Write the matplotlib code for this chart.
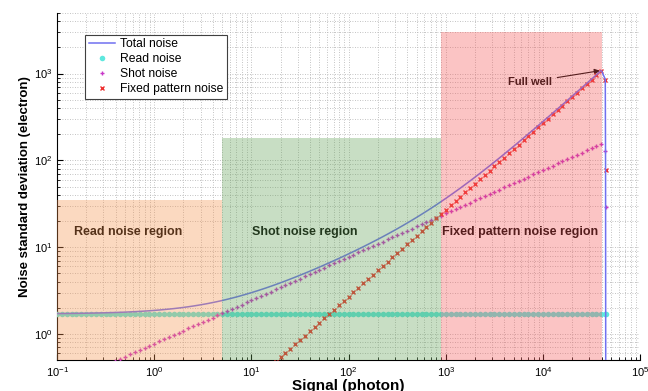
import numpy as np
import matplotlib.pyplot as plt
from matplotlib.patches import Rectangle
from matplotlib.ticker import LogLocator, NullFormatter

plt.rcParams['font.family'] = ['Liberation Sans', 'DejaVu Sans']
plt.rcParams['mathtext.fontset'] = 'custom'
plt.rcParams['mathtext.rm'] = 'Liberation Sans'
plt.rcParams['mathtext.it'] = 'Liberation Sans:italic'
plt.rcParams['mathtext.bf'] = 'Liberation Sans:bold'

# Signal level in photons (20 steps per decade, then the saturated tail)
signal = [
    0.1, 0.1122, 0.1259, 0.1413, 0.1585, 0.1778, 0.1995, 0.2239, 0.2512, 0.2818,
    0.3162, 0.3548, 0.3981, 0.4467, 0.5012, 0.5623, 0.631, 0.7079, 0.7943, 0.8913,
    1.0, 1.122, 1.259, 1.413, 1.585, 1.778, 1.995, 2.239, 2.512, 2.818,
    3.162, 3.548, 3.981, 4.467, 5.012, 5.623, 6.31, 7.079, 7.943, 8.913,
    10.0, 11.22, 12.59, 14.13, 15.85, 17.78, 19.95, 22.39, 25.12, 28.18,
    31.62, 35.48, 39.81, 44.67, 50.12, 56.23, 63.1, 70.79, 79.43, 89.13,
    100.0, 112.2, 125.9, 141.3, 158.5, 177.8, 199.5, 223.9, 251.2, 281.8,
    316.2, 354.8, 398.1, 446.7, 501.2, 562.3, 631.0, 707.9, 794.3, 891.3,
    1000, 1122, 1259, 1413, 1585, 1778, 1995, 2239, 2512, 2818,
    3162, 3548, 3981, 4467, 5012, 5623, 6310, 7079, 7943, 8913,
    10000, 11220, 12590, 14130, 15850, 17780, 19950, 22390, 25120, 28180,
    31620, 35480, 39810,
    43700, 44000, 44200,
]

# Noise components in electrons
read_noise = [1.7] * 115 + [0.1]

shot_noise = [
    0.2449, 0.2594, 0.2748, 0.2912, 0.3084, 0.3267, 0.3461, 0.3664, 0.3882, 0.4113,
    0.4355, 0.4615, 0.4886, 0.5175, 0.5484, 0.5807, 0.6153, 0.6518, 0.6902, 0.7311,
    0.7746, 0.8203, 0.8691, 0.921, 0.9752, 1.033, 1.095, 1.159, 1.228, 1.301,
    1.377, 1.459, 1.545, 1.637, 1.734, 1.837, 1.946, 2.061, 2.183, 2.312,
    2.449, 2.594, 2.748, 2.912, 3.084, 3.267, 3.461, 3.664, 3.882, 4.113,
    4.355, 4.615, 4.886, 5.175, 5.484, 5.807, 6.153, 6.518, 6.902, 7.311,
    7.746, 8.203, 8.691, 9.21, 9.752, 10.33, 10.95, 11.59, 12.28, 13.01,
    13.77, 14.59, 15.45, 16.37, 17.34, 18.37, 19.46, 20.61, 21.83, 23.12,
    24.49, 25.94, 27.48, 29.12, 30.84, 32.67, 34.61, 36.64, 38.82, 41.13,
    43.55, 46.15, 48.86, 51.75, 54.84, 58.07, 61.53, 65.18, 69.02, 73.11,
    77.46, 82.03, 86.91, 92.1, 97.52, 103.3, 109.5, 115.9, 122.8, 130.1,
    137.7, 145.9, 154.5,
    127, 29, 0.1,
]

fpn_noise = [
    0.0027, 0.00303, 0.0034, 0.00382, 0.00428, 0.0048, 0.00539, 0.00605, 0.00678, 0.00761,
    0.00854, 0.00958, 0.01075, 0.01206, 0.01353, 0.01518, 0.01704, 0.01911, 0.02145, 0.02407,
    0.027, 0.0303, 0.034, 0.0382, 0.0428, 0.048, 0.0539, 0.0605, 0.0678, 0.0761,
    0.0854, 0.0958, 0.1075, 0.1206, 0.1353, 0.1518, 0.1704, 0.1911, 0.2145, 0.2407,
    0.27, 0.303, 0.34, 0.382, 0.428, 0.48, 0.539, 0.605, 0.678, 0.761,
    0.854, 0.958, 1.075, 1.206, 1.353, 1.518, 1.704, 1.911, 2.145, 2.407,
    2.7, 3.03, 3.4, 3.82, 4.28, 4.8, 5.39, 6.05, 6.78, 7.61,
    8.54, 9.58, 10.75, 12.06, 13.53, 15.18, 17.04, 19.11, 21.45, 24.07,
    27, 30.3, 34, 38.2, 42.8, 48, 53.9, 60.5, 67.8, 76.1,
    85.4, 95.8, 107.5, 120.6, 135.3, 151.8, 170.4, 191.1, 214.5, 240.7,
    270, 303, 340, 382, 428, 480, 539, 605, 678, 761,
    854, 958, 1075,
    850, 77, 0.1,
]

total_noise = [
    1.718, 1.720, 1.722, 1.725, 1.728, 1.731, 1.735, 1.739, 1.744, 1.749,
    1.755, 1.762, 1.769, 1.777, 1.786, 1.797, 1.808, 1.821, 1.835, 1.851,
    1.868, 1.888, 1.910, 1.934, 1.960, 1.990, 2.022, 2.058, 2.098, 2.142,
    2.190, 2.242, 2.300, 2.363, 2.432, 2.507, 2.589, 2.678, 2.775, 2.880,
    2.994, 3.117, 3.250, 3.393, 3.547, 3.713, 3.892, 4.085, 4.292, 4.514,
    4.753, 5.010, 5.285, 5.581, 5.899, 6.240, 6.607, 7.001, 7.426, 7.884,
    8.377, 8.910, 9.486, 10.11, 10.79, 11.52, 12.31, 13.18, 14.13, 15.16,
    16.29, 17.54, 18.90, 20.41, 22.06, 23.89, 25.92, 28.16, 30.65, 33.42,
    36.50, 39.92, 43.75, 48.02, 52.78, 58.09, 64.04, 70.72, 78.17, 86.50,
    95.86, 106.3, 118.1, 131.3, 146.0, 162.6, 181.2, 202.0, 225.3, 251.5,
    280.9, 313.9, 350.9, 392.5, 438.9, 491.0, 549.7, 615.5, 689.3, 771.9,
    864.8, 969.0, 1086,
    860, 82, 0.1,
]

# Shaded regions: (x_start, x_end, y_top)
region_names = ['Read noise region', 'Shot noise region', 'Fixed pattern noise region']
region_x0 = [0.1, 5, 900]
region_x1 = [5, 900, 40000]
region_top = [35, 180, 3000]
region_colors = ['#f6924b', '#62a156', '#f45656']
label_x = [0.15, 10.2, 910]
label_y = 14.9

full_well = (39810, 1086)

fig = plt.figure(figsize=(6.48, 3.91), dpi=100)
ax = fig.add_axes([0.088, 0.079, 0.9, 0.888])
ax.set_xscale('log')
ax.set_yscale('log')
ax.set_xlim(0.1, 1e5)
ax.set_ylim(0.5, 5000)

ax.plot(signal, total_noise, color='#7070f0', linewidth=1.1, label='Total noise', zorder=3.5)
ax.plot(signal, read_noise, linestyle='none', marker='o', markersize=4,
        markeredgewidth=0, color='#5ee8de', label='Read noise', zorder=3)
ax.plot(signal, shot_noise, linestyle='none', marker='+', markersize=3.5,
        markeredgewidth=1.0, color='#c838c8', label='Shot noise', zorder=3)
ax.plot(signal, fpn_noise, linestyle='none', marker='x', markersize=3,
        markeredgewidth=1.0, color='#ee3030', label='Fixed pattern noise', zorder=3)

for name, x0, x1, top, c, lx in zip(region_names, region_x0, region_x1, region_top,
                                    region_colors, label_x):
    ax.add_patch(Rectangle((x0, 0.5), x1 - x0, top - 0.5, facecolor=c,
                           edgecolor='none', alpha=0.35, zorder=4))
    ax.text(lx, label_y, name, fontsize=9, fontweight='bold', color='black',
            ha='left', va='center', zorder=1)

ax.annotate('Full well', xy=full_well, xytext=(7300, 800), fontsize=8,
            fontweight='bold', ha='center', va='center', zorder=1,
            arrowprops=dict(arrowstyle='-|>', color='black', lw=0.8,
                            mutation_scale=8, shrinkA=2, shrinkB=1))

ax.xaxis.set_major_locator(LogLocator(base=10, numticks=10))
ax.xaxis.set_minor_locator(LogLocator(base=10, subs=np.arange(2, 10), numticks=20))
ax.yaxis.set_minor_locator(LogLocator(base=10, subs=np.arange(2, 10), numticks=20))
ax.xaxis.set_minor_formatter(NullFormatter())
ax.yaxis.set_minor_formatter(NullFormatter())

ax.grid(True, which='both', linestyle=(0, (1, 2)), color='#b0b0b0', linewidth=0.6)
ax.set_axisbelow(True)
ax.tick_params(which='both', direction='in', top=False, right=False, labelsize=8)
ax.tick_params(which='major', length=4)
ax.tick_params(which='minor', length=2)
ax.spines['top'].set_visible(False)
ax.spines['right'].set_visible(False)

ax.set_xlabel('Signal (photon)', fontsize=11, fontweight='bold', labelpad=0)
ax.set_ylabel('Noise standard deviation (electron)', fontsize=9.5, fontweight='bold', labelpad=2)

leg = ax.legend(loc='upper left', bbox_to_anchor=(0.048, 0.937), fontsize=8.7,
                fancybox=False, edgecolor='#404040', framealpha=1,
                borderpad=0.3, labelspacing=0.25, handletextpad=0.4,
                handlelength=2.2, borderaxespad=0)
leg.get_frame().set_linewidth(0.8)
leg.set_zorder(10)

plt.savefig('out.png', dpi=100)
